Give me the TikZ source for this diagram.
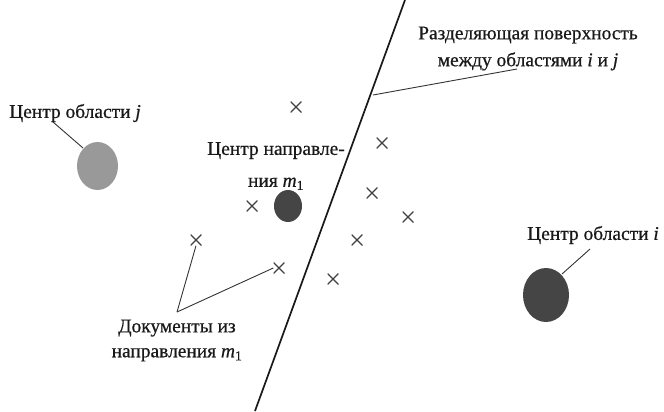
\documentclass[tikz,border=0pt]{standalone}
\usepackage{fontspec}
\setmainfont{Liberation Serif}[FakeBold=0.6]
\begin{document}
\begin{tikzpicture}[x=1bp,y=-1bp,
  lbl/.style={font=\fontsize{19.5}{25}\selectfont, text=black!90, inner sep=0pt, align=center},
  doc/.style={inner sep=0pt, minimum size=11bp, path picture={
      \draw[black!75, line width=1.1bp]
        (path picture bounding box.south west) -- (path picture bounding box.north east)
        (path picture bounding box.north west) -- (path picture bounding box.south east);}},
  pointer/.style={draw=black!80, line width=0.9bp}]
\useasboundingbox (0,0) rectangle (664,411);
% separating surface between the two regions
\coordinate (stop) at (405,0);
\coordinate (sbot) at (255,411);
\draw[line width=1.7bp, black!90] (stop) -- (sbot);
\coordinate (sp) at (373,95);
\node[lbl] (sep) at (528,48.5) {Разделяющая поверхность\\[2pt]между областями \textit{i} и \textit{j}};
\coordinate (sepend) at (517,69);
\draw[pointer] (sp) -- (sepend);
% centres
\fill[black!40] (97.5,166) ellipse [x radius=20.5, y radius=24];
\node (cj) at (97.5,166) {};
\fill[black!73] (288,206) ellipse [x radius=14, y radius=16];
\node (cm) at (288,206) {};
\fill[black!73] (546,295) ellipse [x radius=23, y radius=27];
\node (ci) at (546,295) {};
\node[lbl] (lj) at (75,113) {Центр области \textit{j}};
\coordinate (ljp) at (53,122);
\coordinate (cjp) at (83,148);
\draw[pointer] (ljp) -- (cjp);
\node[lbl] (lm) at (276,166) {Центр направле-\\[7pt]ния \textit{m}\textsubscript{1}};
\node[lbl] (li) at (593,235) {Центр области \textit{i}};
\coordinate (lip) at (590,249);
\coordinate (cip) at (562,274);
\draw[pointer] (lip) -- (cip);
% documents of direction m1
\node[doc] (d1) at (296,107) {};
\node[doc] (d2) at (382,143) {};
\node[doc] (d3) at (372,193) {};
\node[doc] (d4) at (408,217) {};
\node[doc] (d5) at (357,240) {};
\node[doc] (d6) at (333,279) {};
\node[doc] (d7) at (252,206) {};
\node[doc] (d8) at (196,240) {};
\node[doc] (d9) at (279,268) {};
\node[lbl] (ld) at (177,340.5) {Документы из\\направления \textit{m}\textsubscript{1}};
\coordinate (ldp) at (177,312);
\draw[pointer] (ldp) -- (d8.south);
\draw[pointer] (ldp) -- (d9.west);
\end{tikzpicture}
\end{document}
